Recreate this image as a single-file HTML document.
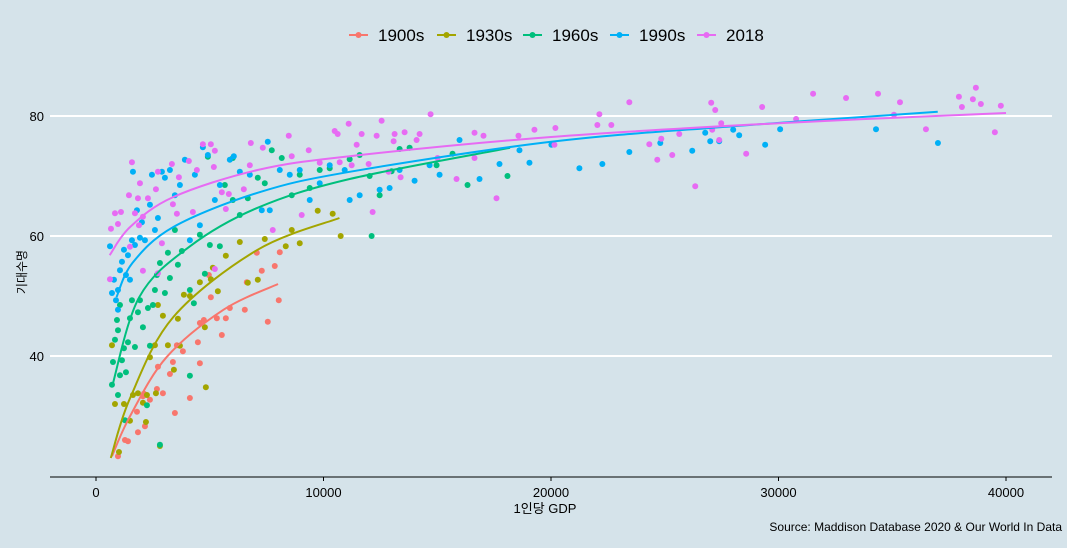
<!DOCTYPE html>
<html><head><meta charset="utf-8"><style>
html,body{margin:0;padding:0;background:#d5e3ea;}
svg{display:block;font-family:"Liberation Sans","Noto Sans CJK KR",sans-serif;}
</style></head><body>
<svg id="chart" width="1067" height="548" viewBox="0 0 1067 548" xmlns="http://www.w3.org/2000/svg">
<rect x="0" y="0" width="1067" height="548" fill="#d5e3ea"/>
<g id="grid"></g>
<g id="trends"></g>
<g id="points"></g>
<line x1="50" y1="477" x2="1052" y2="477" stroke="#000" stroke-width="1"/>
<g id="xticks"></g>
<g id="yticks"></g>
<text x="545" y="513" font-size="13" text-anchor="middle" fill="#000">1인당 GDP</text>
<text x="0" y="0" font-size="12" text-anchor="middle" fill="#000" transform="translate(26,272) rotate(-90)">기대수명</text>
<text x="1062" y="531" font-size="12" text-anchor="end" fill="#000">Source: Maddison Database 2020 &amp; Our World In Data</text>
<g id="legend"></g>
</svg>
<script>
const seriesNames = ["1900s","1930s","1960s","1990s","2018"];
const seriesColors = ["#F8766D","#A3A500","#00BF7D","#00B0F6","#E76BF3"];
const xTicks = [0,10000,20000,30000,40000];
const yTicks = [40,60,80];

const gdp1900 = [966,1405,1844,1273,1800,2151,2063,2370,2107,2678,2722,2941,3249,3468,3380,3556,3819,4127,4566,4566,4478,4741,4960,5048,5312,5531,5707,5883,6541,6629,7068,7287,7551,7858,8034,8078];
const le1900 = [23.3,25.8,27.3,26,30.7,28.3,33.3,32.7,33.7,34.5,38.2,33.8,37,30.5,39,41.8,40.8,33,38.8,45.5,42.3,46,53.5,49.8,46.3,43.5,46.3,48,47.7,52.3,57.2,54.2,45.7,55,49.3,57.3];

const gdp1930 = [702,834,1010,1229,1493,1624,1844,2063,2195,2239,2371,2590,2634,2722,2941,3161,3424,3600,3688,3863,4127,4566,4785,4829,5048,5136,5356,5707,6322,6673,7112,7419,8341,8604,8956,9746,10404,10756,2810];
const le1930 = [41.8,32,24,32,29.2,33.5,33.8,32.2,29,33.5,39.8,41.8,33.8,48.5,46.7,41.8,37.7,46.2,41.7,50.2,50,52.3,44.8,34.8,52.8,54.7,50.8,56.7,59,52.2,52.7,59.5,58.3,61,58.8,64.2,63.7,60,25];

const gdp1960 = [702,746,834,966,1054,922,1141,1229,1317,1405,1493,1580,1712,1844,1932,2063,2283,2371,2502,2590,2678,2810,3029,3161,3249,3468,3600,3775,4127,4302,4566,4785,5005,5444,5663,6014,6322,6673,7112,7419,7726,8165,8604,8956,9395,9834,10273,11151,11590,12029,12468,12994,13346,13785,14970,15672,16331,18087,12116,4917,6014,4127,2810,2239,1054,966,1273];
const le1960 = [35.2,39,42.7,44.3,48.5,46,39.3,41.3,37.3,42.3,46.3,49.3,41.5,47.3,49.3,44.8,48,41.7,48.5,51,53.5,55.5,50.5,57.2,53,61,55.2,57.5,51,48.8,60.2,53.7,58.5,58.3,68.5,66,63.5,66.3,69.7,68.8,74.3,73,66.8,70.2,68,71,71.3,72.8,73.5,70,66.8,70.8,74.5,74.7,71.8,73.7,68.5,70,60,73.2,73,36.7,25.2,31.8,36.8,33.5,29.3];

const gdp1990 = [615,702,790,878,966,966,1054,1141,1229,1317,1405,1493,1580,1712,1800,1932,2019,2151,2371,2590,2722,2897,3029,3249,3468,3688,3907,4127,4346,4566,4917,5224,5444,5883,6322,6761,7287,7639,8078,8517,8956,9395,9834,10273,10931,11151,11590,12468,12907,13346,14004,14663,15102,15980,16858,17736,18614,19053,20018,21248,22257,23443,24804,26208,26779,26999,27394,28009,28272,29413,30072,34286,37008,7551,6058,4697,1624,2458];
const le1990 = [58.3,50.5,52.7,49.3,47.7,51,54.3,55.7,57.7,53.5,56.8,52.7,59.3,58.5,64.3,59.7,62.3,59.3,65.2,61,63,70.7,69.7,71,66.8,68.5,72.7,59.3,70.2,61.8,73.5,66,68.5,72.7,70.7,70.2,64.3,64.3,71,70.2,71,66,68.8,71.8,71,66,66.8,67.7,68,71,69.2,71.8,70.2,76,69.5,72,74.3,72.2,75.2,71.3,72,74,75.5,74.2,77.2,75.8,75.8,77.7,76.8,75.2,77.8,77.8,75.5,75.7,73.3,74.8,70.7,70.2];

const gdp2018 = [1580,834,1098,658,966,1449,1932,1844,2283,1712,2063,1888,1493,615,2063,2722,2897,2634,2722,3336,4083,3644,3380,3556,4258,4434,4697,5048,5224,5180,5531,5839,5707,6497,6805,6761,7331,7770,5224,8473,8604,9043,9351,9834,10492,10624,10712,11107,12555,14707,11677,12336,13126,13565,14224,13082,14092,11458,16638,17033,18570,19272,20194,20150,22038,22126,22652,23443,24321,24848,24672,25330,25638,26340,11238,11985,12863,13390,15848,16638,17604,12160,15014,27042,27218,29281,31520,32969,34374,35340,37930,38676,38544,38895,38062,39773,39510,36481,28579,27394,27086,27482,30774,35076];
const le2018 = [72.3,63.8,64,61.2,62,66.8,68.8,66.3,66.3,63.8,63.2,61.8,58.2,52.8,54.2,53.8,58.8,67.8,70.7,72,72.5,69.8,65.3,63.7,64,71,75.3,75.3,74.2,71.5,67.3,67,64.5,67.8,75.5,71.8,74.7,61,54.5,76.7,73.3,63.5,74.3,72.2,77.5,77,72.3,78.7,79.2,80.3,77,76.7,77,77.3,77,75.8,76,75.2,77.2,76.7,76.7,77.7,78,75.2,78.5,80.3,78.5,82.3,75.3,76.2,72.7,73.5,77,68.3,71.8,72,70.7,69.8,69.5,73,66.3,64,73,82.2,81,81.5,83.7,83,83.7,82.3,83.2,84.7,82.8,82,81.5,81.7,77.3,77.8,73.7,76,77.7,78.8,79.5,80.2];

const trendX1900 = [700,1500,3100,5600,8000];
const trendY1900 = [23.3,30,39.8,47.7,52];
const trendX1930 = [650,1500,3400,7100,10700];
const trendY1930 = [23,33,46.5,57.7,63];
const trendX1960 = [700,1900,4100,7100,11150,18200];
const trendY1960 = [34.8,49.8,58.2,64.7,69.5,74.7];
const trendX1990 = [900,1600,3400,7100,11150,20000,28000,37000];
const trendY1990 = [49.8,55.5,61.5,67.2,70.7,75.7,78.3,80.7];
const trendX2018 = [600,1500,3400,7100,11150,20000,30000,40000];
const trendY2018 = [56.8,61.5,66.5,71,73.3,76.5,78.8,80.5];

const NS = "http://www.w3.org/2000/svg";
function xs(v){ return 96 + v * (1006 - 96) / 40000; }
function ys(v){ return 116 + (80 - v) * 6; }
function mk(tag, attrs, parent){ const e = document.createElementNS(NS, tag); for (const k in attrs) e.setAttribute(k, attrs[k]); parent.appendChild(e); return e; }

const grid = document.getElementById('grid');
const yt = document.getElementById('yticks');
yTicks.forEach(t => {
  const l = mk('line', {x1:50, x2:1052, y1:ys(t), y2:ys(t), stroke:'#ffffff', 'stroke-width':2}, grid);
  
  
  const tx = mk('text', {x:44, y:ys(t)+5, 'font-size':13, 'text-anchor':'end', fill:'#000'}, yt);
  tx.textContent = t;
  
  
});
const xt = document.getElementById('xticks');
xTicks.forEach(t => {
  const l = mk('line', {x1:xs(t), x2:xs(t), y1:477, y2:481, stroke:'#000'}, xt);
  
  
  const tx = mk('text', {x:xs(t), y:497, 'font-size':13, 'text-anchor':'middle', fill:'#000'}, xt);
  tx.textContent = t;
  
  
});

const pts = [[gdp1900,le1900],[gdp1930,le1930],[gdp1960,le1960],[gdp1990,le1990],[gdp2018,le2018]];
const trs = [[trendX1900,trendY1900],[trendX1930,trendY1930],[trendX1960,trendY1960],[trendX1990,trendY1990],[trendX2018,trendY2018]];
const pg = document.getElementById('points');
const tg = document.getElementById('trends');
// draw points in order so later series overlay earlier
pts.forEach((s, i) => {
  s[0].forEach((g, j) => {
    const c = mk('circle', {cx:xs(g), cy:ys(s[1][j]), r:3, fill:seriesColors[i]}, pg);
    
    
  });
});
function smoothPath(X, Y){
  const p = X.map((x, i) => [xs(x), ys(Y[i])]);
  let d = 'M' + p[0][0] + ',' + p[0][1];
  for (let i = 0; i < p.length - 1; i++) {
    const p0 = p[Math.max(0, i-1)], p1 = p[i], p2 = p[i+1], p3 = p[Math.min(p.length-1, i+2)];
    const c1 = [p1[0] + (p2[0]-p0[0])/6, p1[1] + (p2[1]-p0[1])/6];
    const c2 = [p2[0] - (p3[0]-p1[0])/6, p2[1] - (p3[1]-p1[1])/6];
    d += ' C' + c1[0] + ',' + c1[1] + ' ' + c2[0] + ',' + c2[1] + ' ' + p2[0] + ',' + p2[1];
  }
  return d;
}
trs.forEach((t, i) => {
  const p = mk('path', {d:smoothPath(t[0], t[1]), fill:'none', stroke:seriesColors[i], 'stroke-width':2}, tg);
  
  
});
// bring trend lines above points
document.getElementById('chart').insertBefore(pg, tg);

const lg = document.getElementById('legend');
const legX = [349, 437, 523, 610, 697];
seriesNames.forEach((n, i) => {
  const g = mk('g', {}, lg);
  
  
  mk('line', {x1:legX[i], x2:legX[i]+19, y1:35, y2:35, stroke:seriesColors[i], 'stroke-width':2}, g);
  mk('circle', {cx:legX[i]+9.5, cy:35, r:3, fill:seriesColors[i]}, g);
  const tx = mk('text', {x:legX[i]+29, y:41, 'font-size':17, fill:'#000'}, g);
  tx.textContent = n;
});
</script>
</body></html>
